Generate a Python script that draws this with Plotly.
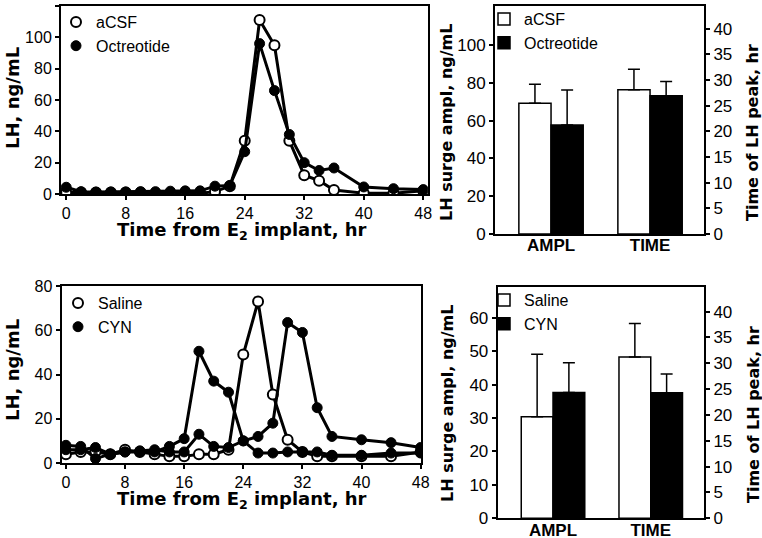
import plotly.graph_objects as go

# ---------------- data ----------------
time_h = [0, 2, 4, 6, 8, 10, 12, 14, 16, 18, 20, 22, 24, 26, 28, 30, 32, 34, 36, 40, 44, 48]
x_ticks = [0, 8, 16, 24, 32, 40, 48]

lh_acsf = [1, 1, 1, 1, 1, 1, 0.5, 0.5, 0.5, 0.5, 1.5, 5, 34, 111, 95, 34, 12, 8.5, 2.6, 0.5, 0.5, 2]
lh_octreotide = [4.3, 1.5, 1.2, 1.3, 1.3, 1.5, 1.5, 1.8, 2, 2, 5, 5.5, 27, 96, 66, 38, 20, 15, 16.6, 4.5, 3.4, 2.8]

lh_saline = [4, 5, 5, 4, 6, 5, 4, 3, 3, 4, 4, 6, 49, 73, 31, 10.5, 5, 3, 3, 3, 3, 5]
lh_cyn_a = [8, 7.5, 2, 4, 5, 5, 5, 7.5, 11, 50.5, 37, 32, 10, 4.5, 4.5, 5, 5, 5, 3.5, 3.5, 4.5, 4.5]
lh_cyn_b = [6, 6, 7, 4, 5, 5.5, 6, 5, 5, 13, 7.5, 7, 10, 12, 18, 63.5, 59, 25, 12, 10.5, 9.2, 7]

bar_cats = ["AMPL", "TIME"]
# top panel (aCSF vs Octreotide)
ampl_acsf, ampl_acsf_err = 69.2, 10.0
ampl_oct, ampl_oct_err = 57.7, 18.5
time_acsf, time_acsf_err = 28.1, 4.0
time_oct, time_oct_err = 26.9, 2.8
# bottom panel (Saline vs CYN)
ampl_saline, ampl_saline_err = 30.4, 18.7
ampl_cyn, ampl_cyn_err = 37.6, 8.9
time_saline, time_saline_err = 31.2, 6.5
time_cyn, time_cyn_err = 24.3, 3.6

# ---------------- styling ----------------
W, H = 762, 538
REG = "Liberation Sans, Arial, sans-serif"
TITLE = "DejaVu Sans, sans-serif"
BLACK = "black"


def px_x(p):
    return p / W


def px_y(p):
    return 1 - p / H


fig = go.Figure()

open_marker = dict(symbol="circle", size=10, color="white", line=dict(color=BLACK, width=2))
fill_marker = dict(symbol="circle", size=10, color=BLACK, line=dict(color=BLACK, width=1))
line_style = dict(color=BLACK, width=3)


def add_line(x, y, marker, xa, ya):
    fig.add_trace(go.Scatter(x=x, y=y, mode="lines+markers", line=line_style, marker=marker,
                             xaxis=xa, yaxis=ya, showlegend=False, hoverinfo="x+y"))


def add_legend_marker(name, marker, legend):
    fig.add_trace(go.Scatter(x=[None], y=[None], mode="markers", marker=marker, name=name,
                             legend=legend, xaxis="x", yaxis="y", showlegend=True))


# top-left line chart
add_line(time_h, lh_acsf, open_marker, "x", "y")
add_line(time_h, lh_octreotide, fill_marker, "x", "y")
add_legend_marker("aCSF", open_marker, "legend")
add_legend_marker("Octreotide", fill_marker, "legend")

# bottom-left line chart
add_line(time_h, lh_saline, open_marker, "x2", "y2")
add_line(time_h, lh_cyn_a, fill_marker, "x2", "y2")
add_line(time_h, lh_cyn_b, fill_marker, "x2", "y2")
add_legend_marker("Saline", open_marker, "legend2")
add_legend_marker("CYN", fill_marker, "legend2")

BW = 0.325


def add_bar(cat, val, err, color, offset, xa, ya, name, legend, show):
    fig.add_trace(go.Bar(
        x=[cat], y=[val], width=[BW], offset=[offset], xaxis=xa, yaxis=ya,
        name=name, legend=legend, showlegend=show,
        marker=dict(color=color, line=dict(color=BLACK, width=1.5)),
        error_y=dict(type="data", array=[err], arrayminus=[0], symmetric=False,
                     color=BLACK, thickness=1.5, width=6),
    ))


# top-right bars
add_bar(bar_cats[0], ampl_acsf, ampl_acsf_err, "white", -BW, "x3", "y3", "aCSF", "legend3", True)
add_bar(bar_cats[0], ampl_oct, ampl_oct_err, BLACK, 0, "x3", "y3", "Octreotide", "legend3", True)
add_bar(bar_cats[1], time_acsf, time_acsf_err, "white", -BW, "x3", "y4", "aCSF", "legend3", False)
add_bar(bar_cats[1], time_oct, time_oct_err, BLACK, 0, "x3", "y4", "Octreotide", "legend3", False)

# bottom-right bars
add_bar(bar_cats[0], ampl_saline, ampl_saline_err, "white", -BW, "x4", "y5", "Saline", "legend4", True)
add_bar(bar_cats[0], ampl_cyn, ampl_cyn_err, BLACK, 0, "x4", "y5", "CYN", "legend4", True)
add_bar(bar_cats[1], time_saline, time_saline_err, "white", -BW, "x4", "y6", "Saline", "legend4", False)
add_bar(bar_cats[1], time_cyn, time_cyn_err, BLACK, 0, "x4", "y6", "CYN", "legend4", False)

axis_common = dict(showline=True, linewidth=2, linecolor=BLACK, showgrid=False, zeroline=False,
                   ticks="outside", ticklen=4, tickwidth=2, tickcolor=BLACK, automargin=False,
                   tickfont=dict(family=REG, size=16, color=BLACK))
cat_axis = dict(axis_common, type="category", categoryarray=bar_cats, categoryorder="array",
                mirror=True, ticks="", ticklen=0, range=[-0.566, 1.545], ticklabelstandoff=-5,
                tickfont=dict(family=REG, size=17, color=BLACK, weight="bold"))
bar_tick = dict(family=REG, size=17, color=BLACK)

fig.update_layout(
    width=W, height=H, margin=dict(l=0, r=0, t=0, b=0, autoexpand=False),
    paper_bgcolor="white", plot_bgcolor="white",
    font=dict(family=REG, color=BLACK),
    xaxis=dict(axis_common, domain=[px_x(61), px_x(427.7)], range=[-0.7, 48.6], tickvals=x_ticks,
               anchor="y", mirror=True),
    yaxis=dict(axis_common, domain=[px_y(194), px_y(6)], range=[0, 120], dtick=20,
               anchor="x", mirror=True),
    xaxis2=dict(axis_common, domain=[px_x(61.5), px_x(421)], range=[-0.6, 48.05], tickvals=x_ticks,
                anchor="y2", mirror=True),
    yaxis2=dict(axis_common, domain=[px_y(463), px_y(286)], range=[0, 80], dtick=20,
                anchor="x2", mirror=True),
    xaxis3=dict(cat_axis, domain=[px_x(495), px_x(704)], anchor="y3"),
    yaxis3=dict(axis_common, domain=[px_y(234), px_y(6)], range=[0, 120.6],
                tickvals=[0, 20, 40, 60, 80, 100], anchor="x3", tickfont=bar_tick),
    yaxis4=dict(axis_common, range=[0, 44.4], dtick=5, overlaying="y3", side="right", anchor="x3",
                tickfont=bar_tick),
    xaxis4=dict(cat_axis, domain=[px_x(497.7), px_x(704)], anchor="y5"),
    yaxis5=dict(axis_common, domain=[px_y(518.3), px_y(287.3)], range=[0, 69.1], dtick=10,
                anchor="x4", tickfont=bar_tick),
    yaxis6=dict(axis_common, range=[0, 44.7], dtick=5, overlaying="y5", side="right", anchor="x4",
                tickfont=bar_tick),
)

legend_common = dict(bgcolor="rgba(0,0,0,0)", borderwidth=0, font=dict(family=REG, size=16, color=BLACK),
                     xanchor="left", yanchor="top", tracegroupgap=0, itemwidth=30)
fig.update_layout(
    legend=dict(legend_common, x=px_x(56), y=px_y(5)),
    legend2=dict(legend_common, x=px_x(58), y=px_y(286)),
    legend3=dict(legend_common, x=px_x(484), y=px_y(2)),
    legend4=dict(legend_common, x=px_x(484), y=px_y(283)),
)

title_font = dict(family=TITLE, size=18, color=BLACK, weight="bold")
bar_title_font = dict(family=TITLE, size=16, color=BLACK, weight="bold")


def ann(text, x, y, font, angle=0):
    fig.add_annotation(text=text, x=px_x(x), y=px_y(y), xref="paper", yref="paper",
                       showarrow=False, textangle=angle, font=font, xanchor="center", yanchor="middle")


ann("LH, ng/mL", 12, 98, title_font, -90)
ann("Time from E<sub>2</sub> implant, hr", 242, 231, title_font)
ann("LH, ng/mL", 12, 370, title_font, -90)
ann("Time from E<sub>2</sub> implant, hr", 242, 500, title_font)
ann("LH surge ampl, ng/mL", 447, 122, bar_title_font, -90)
ann("Time of LH peak, hr", 753, 133, bar_title_font, -90)
ann("LH surge ampl, ng/mL", 447, 403, bar_title_font, -90)
ann("Time of LH peak, hr", 753, 415, bar_title_font, -90)

fig.write_html("out.html", config={"displayModeBar": False},
               post_script="document.body.style.margin='0';document.body.style.overflow='hidden';")
